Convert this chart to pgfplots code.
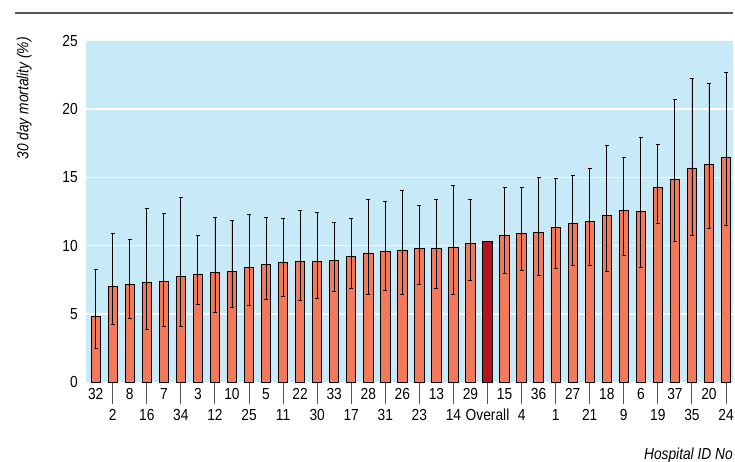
\documentclass[border=0pt]{standalone}
\usepackage{pgfplots}
\usepackage{pgfplotstable}
\pgfplotsset{compat=1.18}
\usepackage{fontspec}
\setmainfont{Liberation Sans}[FakeStretch=0.86]
\definecolor{bgblue}{HTML}{C8E9F8}
\definecolor{barfill}{HTML}{F27A5A}
\definecolor{overall}{HTML}{B5121B}
\definecolor{rule}{HTML}{555555}
\pgfplotstableread{
i y lo hi
0 4.78 2.46 8.26
1 6.99 4.22 10.88
2 7.16 4.68 10.42
3 7.31 3.82 12.75
4 7.40 4.04 12.35
5 7.77 4.07 13.56
6 7.92 5.71 10.76
7 8.04 5.13 12.04
8 8.12 5.47 11.82
9 8.43 5.59 12.31
10 8.63 6.03 12.09
11 8.75 6.28 11.96
12 8.85 5.99 12.60
13 8.85 6.13 12.46
14 8.88 6.62 11.72
15 9.17 6.84 12.01
16 9.46 6.45 13.41
17 9.59 6.72 13.26
18 9.68 6.40 14.02
19 9.76 7.13 12.97
20 9.76 6.87 13.41
21 9.85 6.43 14.39
22 10.15 7.46 13.38
24 10.76 7.97 14.26
25 10.91 8.16 14.26
26 10.99 7.79 14.98
27 11.30 8.31 14.90
28 11.60 8.56 15.15
29 11.79 8.56 15.64
30 12.18 8.12 17.33
31 12.57 9.29 16.45
32 12.53 8.43 17.94
33 14.26 11.60 17.40
34 14.85 10.32 20.69
35 15.69 10.74 22.28
36 15.93 11.25 21.87
37 16.43 11.50 22.70
}\hospitals
\pgfplotstableread{
i y
23 10.29
}\overalltab
\begin{document}
\begin{tikzpicture}[x=1pt,y=1pt,font=\fontsize{16}{19.2}\selectfont]
\begin{axis}[
  at={(0,0)}, anchor=south west,
  scale only axis, width=647pt, height=341pt,
  xmin=-0.57, xmax=37.41, ymin=0, ymax=25,
  axis background/.style={fill=bgblue},
  axis line style={draw=none},
  /pgf/number format/assume math mode=true,
  ytick={0,5,10,15,20,25},
  yticklabels={0,5,10,15,20,25},
  ytick pos=left,
  y tick label style={anchor=east, inner sep=0pt, xshift=-8pt},
  extra y ticks={5,10,15,20},
  extra y tick labels={},
  extra y tick style={grid=major, major grid style={white, line width=1.6pt}, major tick length=0pt},
  major tick length=0pt,
  xtick={0,2,...,36},
  xticklabels={32,8,7,3,10,5,22,33,28,26,13,29,15,36,27,18,6,37,20},
  xtick pos=bottom,
  x tick label style={anchor=base, inner sep=0pt, yshift=-17.3pt},
  extra x ticks={1,3,...,37},
  extra x tick labels={2,16,34,12,25,11,30,17,31,23,14,Overall,4,1,21,9,19,35,24},
  extra x tick style={major tick length=22pt, tick align=outside,
     tick style={line width=1pt, color=rule},
     x tick label style={anchor=base, inner sep=0pt, yshift=1pt}},
  ybar, bar width=9.4pt, bar shift=0pt,
]
\addplot[fill=barfill, draw=black, line width=0.9pt,
  error bars/.cd, y dir=both, y explicit,
  error bar style={line width=0.9pt, black},
  error mark options={rotate=90, mark size=2pt, line width=0.9pt, black}]
  table[x=i, y=y, y error plus expr=\thisrow{hi}-\thisrow{y}, y error minus expr=\thisrow{y}-\thisrow{lo}] {\hospitals};
\addplot[fill=overall, draw=black, line width=0.9pt] table[x=i, y=y] {\overalltab};
\end{axis}
\draw[rule, line width=1.5pt] (-71,369) -- (647,369);
\node[rotate=90, anchor=base east, inner sep=0pt, font=\fontsize{16}{19.2}\selectfont\itshape] at (-57.7,345) {30 day mortality (\%)};
\node[anchor=base east, inner sep=0pt, font=\fontsize{16}{19.2}\selectfont\itshape] at (647,-77) {Hospital ID No};
\pgfresetboundingbox
\path[use as bounding box] (-86,-79) rectangle (649,382);
\end{tikzpicture}
\end{document}
